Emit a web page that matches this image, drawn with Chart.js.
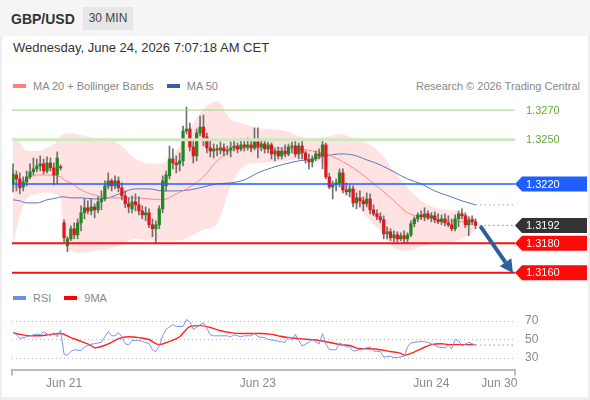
<!DOCTYPE html>
<html>
<head>
<meta charset="utf-8">
<script src="https://cdn.jsdelivr.net/npm/chart.js@4.4.1/dist/chart.umd.min.js"></script>
<style>
body{margin:0;width:590px;height:400px;background:#eeeeee;font-family:"Liberation Sans",Arial,sans-serif;position:relative;overflow:hidden}
#head{position:absolute;left:0;top:0;width:590px;height:36px;background:#f5f5f5}
#sym{position:absolute;left:11px;top:11px;font-size:14px;font-weight:bold;color:#333}
#tf{position:absolute;left:83px;top:7px;width:50px;height:23px;background:#e6e6e6;color:#444;font-size:12px;line-height:23px;text-align:center}
#panel{position:absolute;left:2px;top:36px;width:586px;height:361px;background:#fff}
#date{position:absolute;left:13px;top:40px;font-size:13px;line-height:16px;color:#333}
.lg{position:absolute;font-size:11px;line-height:13px;color:#888;white-space:nowrap}
.sw{display:inline-block;width:13px;height:4px;vertical-align:middle;margin-right:7px;position:relative;top:-1px}
canvas{position:absolute;left:0}
</style>
</head>
<body>
<div id="head"><span id="sym">GBP/USD</span><span id="tf">30 MIN</span></div>
<div id="panel"></div>
<div id="date">Wednesday, June 24, 2026 7:07:18 AM CET</div>
<div class="lg" style="left:13px;top:80px"><span class="sw" style="background:#ff7f7f"></span>MA 20 + Bollinger Bands<span class="sw" style="background:#3b5f9d;margin-left:13px"></span>MA 50</div>
<div class="lg" style="right:10px;top:80px">Research © 2026 Trading Central</div>
<canvas id="price" width="590" height="190" style="top:100px"></canvas>
<div class="lg" style="left:13px;top:292px"><span class="sw" style="background:#6f8fe6"></span>RSI<span class="sw" style="background:#ff0000;margin-left:13px"></span>9MA</div>
<canvas id="rsi" width="590" height="100" style="top:300px"></canvas>
<script>
//########################## data
// 30 min candles, index 0 = first visible bar
const opens = [
  1.32201, 1.32261, 1.32234, 1.32180, 1.32214, 1.32248, 1.32282, 1.32302, 1.32322, 1.32336,
  1.32288, 1.32342, 1.32309, 1.32261, 1.32315, 1.31937, 1.31782, 1.31829, 1.31897, 1.31856,
  1.31937, 1.32005, 1.32039, 1.32018, 1.32045, 1.32025, 1.32079, 1.32099, 1.32187, 1.32221,
  1.32187, 1.32221, 1.32174, 1.32120, 1.32066, 1.32032, 1.32079, 1.32059, 1.32018, 1.31991,
  1.32005, 1.31924, 1.31897, 1.31924, 1.32032, 1.32187, 1.32255, 1.32369, 1.32342, 1.32336,
  1.32356, 1.32558, 1.32572, 1.32450, 1.32390, 1.32545, 1.32585, 1.32518, 1.32444, 1.32423,
  1.32437, 1.32430, 1.32444, 1.32423, 1.32430, 1.32444, 1.32457, 1.32437, 1.32464, 1.32450,
  1.32464, 1.32444, 1.32484, 1.32450, 1.32471, 1.32437, 1.32464, 1.32403, 1.32423, 1.32390,
  1.32423, 1.32403, 1.32450, 1.32457, 1.32403, 1.32457, 1.32410, 1.32363, 1.32349, 1.32369,
  1.32403, 1.32390, 1.32464, 1.32248, 1.32180, 1.32194, 1.32207, 1.32275, 1.32160, 1.32147,
  1.32167, 1.32072, 1.32106, 1.32086, 1.32066, 1.32099, 1.32025, 1.31998, 1.31978, 1.31958,
  1.31863, 1.31877, 1.31836, 1.31856, 1.31829, 1.31850, 1.31829, 1.31856, 1.31931, 1.31964,
  1.31991, 1.31978, 1.31998, 1.31971, 1.31985, 1.31958, 1.31944, 1.31964, 1.31937, 1.31924,
  1.31897, 1.31964, 1.31998, 1.31985, 1.31924, 1.31958, 1.31944
]
const highs = [
  1.32336, 1.32288, 1.32275, 1.32248, 1.32288, 1.32336, 1.32376, 1.32369, 1.32390, 1.32369,
  1.32383, 1.32376, 1.32342, 1.32417, 1.32329, 1.31958, 1.31843, 1.31917, 1.31937, 1.31964,
  1.32052, 1.32099, 1.32086, 1.32099, 1.32066, 1.32113, 1.32153, 1.32221, 1.32275, 1.32234,
  1.32255, 1.32248, 1.32207, 1.32153, 1.32106, 1.32120, 1.32133, 1.32113, 1.32052, 1.32045,
  1.32032, 1.31964, 1.31951, 1.32052, 1.32255, 1.32288, 1.32457, 1.32437, 1.32390, 1.32410,
  1.32592, 1.32720, 1.32612, 1.32491, 1.32572, 1.32660, 1.32666, 1.32545, 1.32491, 1.32471,
  1.32464, 1.32484, 1.32471, 1.32457, 1.32484, 1.32491, 1.32477, 1.32504, 1.32491, 1.32511,
  1.32498, 1.32579, 1.32579, 1.32504, 1.32491, 1.32484, 1.32477, 1.32437, 1.32450, 1.32444,
  1.32464, 1.32471, 1.32484, 1.32491, 1.32477, 1.32491, 1.32423, 1.32403, 1.32390, 1.32423,
  1.32437, 1.32504, 1.32477, 1.32275, 1.32221, 1.32234, 1.32302, 1.32302, 1.32207, 1.32194,
  1.32187, 1.32140, 1.32153, 1.32113, 1.32140, 1.32133, 1.32059, 1.32025, 1.32005, 1.31985,
  1.31910, 1.31897, 1.31883, 1.31877, 1.31870, 1.31883, 1.31870, 1.31951, 1.31978, 1.32005,
  1.32018, 1.32039, 1.32018, 1.32005, 1.32012, 1.31998, 1.31991, 1.31998, 1.31985, 1.31964,
  1.31991, 1.32018, 1.32032, 1.32005, 1.31978, 1.31985, 1.31964
]
const lows = [
  1.32147, 1.32153, 1.32133, 1.32153, 1.32187, 1.32234, 1.32261, 1.32282, 1.32288, 1.32268,
  1.32275, 1.32288, 1.32194, 1.32201, 1.32295, 1.31809, 1.31742, 1.31816, 1.31829, 1.31829,
  1.31883, 1.31964, 1.31998, 1.31991, 1.31971, 1.32005, 1.32025, 1.32086, 1.32167, 1.32153,
  1.32167, 1.32147, 1.32093, 1.32039, 1.32005, 1.32005, 1.32018, 1.31991, 1.31964, 1.31951,
  1.31904, 1.31843, 1.31802, 1.31897, 1.32005, 1.32153, 1.32234, 1.32302, 1.32275, 1.32288,
  1.32322, 1.32538, 1.32423, 1.32342, 1.32356, 1.32525, 1.32457, 1.32410, 1.32383, 1.32376,
  1.32390, 1.32403, 1.32390, 1.32396, 1.32383, 1.32423, 1.32410, 1.32423, 1.32423, 1.32430,
  1.32417, 1.32430, 1.32376, 1.32423, 1.32410, 1.32410, 1.32369, 1.32356, 1.32369, 1.32369,
  1.32383, 1.32390, 1.32410, 1.32383, 1.32369, 1.32369, 1.32342, 1.32302, 1.32315, 1.32356,
  1.32369, 1.32302, 1.32234, 1.32167, 1.32099, 1.32153, 1.32180, 1.32140, 1.32126, 1.32113,
  1.32045, 1.32032, 1.32045, 1.32018, 1.32045, 1.31998, 1.31985, 1.31958, 1.31937, 1.31829,
  1.31829, 1.31816, 1.31809, 1.31809, 1.31816, 1.31802, 1.31796, 1.31843, 1.31910, 1.31944,
  1.31958, 1.31951, 1.31958, 1.31944, 1.31937, 1.31931, 1.31924, 1.31917, 1.31910, 1.31883,
  1.31883, 1.31910, 1.31964, 1.31904, 1.31850, 1.31924, 1.31897
]
const closes = [
  1.32268, 1.32234, 1.32174, 1.32214, 1.32248, 1.32282, 1.32302, 1.32322, 1.32336, 1.32288,
  1.32342, 1.32309, 1.32261, 1.32376, 1.32309, 1.31836, 1.31829, 1.31897, 1.31856, 1.31937,
  1.32005, 1.32039, 1.32018, 1.32045, 1.32025, 1.32079, 1.32099, 1.32187, 1.32221, 1.32187,
  1.32221, 1.32174, 1.32120, 1.32066, 1.32045, 1.32079, 1.32059, 1.32018, 1.31991, 1.32005,
  1.31924, 1.31897, 1.31924, 1.32032, 1.32221, 1.32261, 1.32369, 1.32342, 1.32329, 1.32356,
  1.32558, 1.32572, 1.32450, 1.32390, 1.32545, 1.32585, 1.32518, 1.32444, 1.32423, 1.32437,
  1.32430, 1.32444, 1.32423, 1.32430, 1.32444, 1.32457, 1.32437, 1.32464, 1.32450, 1.32464,
  1.32444, 1.32484, 1.32450, 1.32471, 1.32437, 1.32464, 1.32403, 1.32423, 1.32390, 1.32423,
  1.32403, 1.32450, 1.32457, 1.32403, 1.32457, 1.32410, 1.32363, 1.32349, 1.32369, 1.32403,
  1.32390, 1.32464, 1.32248, 1.32180, 1.32194, 1.32207, 1.32275, 1.32160, 1.32147, 1.32167,
  1.32072, 1.32106, 1.32086, 1.32066, 1.32099, 1.32025, 1.31998, 1.31978, 1.31958, 1.31863,
  1.31877, 1.31836, 1.31856, 1.31829, 1.31850, 1.31829, 1.31856, 1.31931, 1.31964, 1.31991,
  1.31978, 1.31998, 1.31971, 1.31985, 1.31958, 1.31944, 1.31964, 1.31937, 1.31924, 1.31897,
  1.31964, 1.31998, 1.31985, 1.31924, 1.31958, 1.31944, 1.31920
]

// overlay lines, read at these bar indexes
const lineIdx = [0, 2, 4, 7, 10, 13, 14, 15, 17, 20, 24, 28, 32, 36, 40, 44, 48, 52, 56, 60,
  64, 68, 72, 76, 80, 84, 88, 92, 96, 100, 104, 108, 112, 116, 120, 124, 128, 132, 136]
const ma20 = [1.32174, 1.32201, 1.32234, 1.32261, 1.32261, 1.32255, 1.32248, 1.32228, 1.32207, 1.32160,
  1.32126, 1.32106, 1.32106, 1.32106, 1.32099, 1.32093, 1.32133, 1.32180, 1.32248, 1.32356,
  1.32423, 1.32444, 1.32444, 1.32444, 1.32444, 1.32437, 1.32423, 1.32403, 1.32363, 1.32309,
  1.32241, 1.32167, 1.32086, 1.32005, 1.31978, 1.31964, 1.31951, 1.31944, 1.31958]
const ma50 = [1.32093, 1.32086, 1.32072, 1.32072, 1.32093, 1.32106, 1.32113, 1.32113, 1.32106, 1.32106,
  1.32099, 1.32106, 1.32140, 1.32167, 1.32167, 1.32153, 1.32153, 1.32160, 1.32180, 1.32201,
  1.32207, 1.32228, 1.32275, 1.32309, 1.32336, 1.32356, 1.32369, 1.32390, 1.32403, 1.32396,
  1.32363, 1.32329, 1.32282, 1.32234, 1.32201, 1.32153, 1.32120, 1.32086, 1.32059]
const bbUpper = [1.32525, 1.32477, 1.32423, 1.32423, 1.32444, 1.32491, 1.32525, 1.32538, 1.32545, 1.32531,
  1.32511, 1.32504, 1.32457, 1.32369, 1.32336, 1.32342, 1.32423, 1.32572, 1.32707, 1.32761,
  1.32639, 1.32606, 1.32579, 1.32572, 1.32558, 1.32525, 1.32511, 1.32518, 1.32538, 1.32511,
  1.32477, 1.32410, 1.32288, 1.32174, 1.32086, 1.32039, 1.32025, 1.32012, 1.31964]
const bbLower = [1.31782, 1.31985, 1.32099, 1.32133, 1.32140, 1.32126, 1.32086, 1.31829, 1.31748, 1.31735,
  1.31748, 1.31762, 1.31789, 1.31829, 1.31816, 1.31816, 1.31816, 1.31843, 1.31890, 1.31931,
  1.32187, 1.32322, 1.32342, 1.32349, 1.32356, 1.32369, 1.32356, 1.32322, 1.32174, 1.32086,
  1.31978, 1.31883, 1.31769, 1.31748, 1.31775, 1.31796, 1.31802, 1.31829, 1.31883]

// RSI panel
const rsiIdx = [0, 1, 2, 4, 5, 7, 8, 9, 11, 12, 13, 14, 15, 16, 17, 18, 20, 21, 23, 24,
  26, 27, 28, 29, 30, 31, 32, 33, 34, 35, 37, 38, 40, 41, 42, 43, 44, 45, 47, 48,
  50, 51, 52, 53, 55, 56, 57, 58, 59, 61, 63, 64, 65, 67, 68, 70, 71, 72, 74, 75,
  77, 78, 80, 81, 82, 83, 85, 87, 88, 90, 91, 92, 93, 95, 96, 98, 99, 100, 102, 103,
  105, 106, 108, 109, 111, 112, 113, 115, 116, 117, 120, 122, 124, 125, 127, 128, 129, 130, 131, 132,
  134, 135, 136]
const rsiVal = [57.6, 55.4, 51, 53, 54, 56, 55, 58.5, 54, 57.5, 53, 60, 34, 33, 37, 39, 38, 42, 45, 45.5,
  47, 53, 58.5, 54, 54, 57.5, 53, 45.5, 44, 49, 49, 48, 45.5, 39, 37, 43, 54, 61, 66, 64,
  64, 71.5, 69, 61, 66, 68, 62, 55, 54, 54, 54, 53, 55, 53, 54, 54, 56.5, 53, 52, 50,
  49, 48, 47, 53, 49, 55.5, 43, 47, 50, 45, 56.5, 45, 39, 39, 46.5, 42, 42, 37.5, 39, 40,
  42, 37.5, 37, 31, 32, 30.5, 30.5, 32, 42, 46.5, 48, 47, 43.5, 42, 41, 44, 40, 50, 49, 43,
  47, 45.5, 44]
const rsiMaIdx = [0, 2, 5, 8, 11, 14, 17, 20, 23, 24, 26, 29, 31, 34, 37, 40, 42, 43, 46, 49,
  52, 55, 58, 61, 64, 67, 70, 73, 76, 78, 81, 84, 87, 90, 93, 96, 99, 102, 105, 108,
  111, 114, 115, 117, 120, 123, 126, 128, 131, 134, 136]
const rsiMaVal = [57.5, 55.5, 54, 54, 55.5, 56.5, 52, 48, 43.5, 41, 42.5, 47, 51, 53, 52, 50, 45.5, 44.5, 48, 53,
  64, 65, 63, 59.5, 57.5, 56.5, 56.5, 56.5, 55.5, 54, 52, 51, 50, 49, 47, 44.5, 43.5, 40, 40, 39,
  37, 35, 33, 35, 40, 44.5, 45.5, 44.5, 44.5, 44.5, 44.5]
const rsiTicks = [30, 50, 70]

// key levels on the right
const levels = [1.3270, 1.3250, 1.3220, 1.3192, 1.3180, 1.3160]
const arrowFrom = [137.4, 1.31915]
const arrowTo = [147, 1.31598]

// date ticks
const tickIdx = [15, 72, 123, 143]
const tickLabels = ['Jun 21', 'Jun 23', 'Jun 24', 'Jun 30']

//########################## setup
const xMin = -0.3
const xMax = 147.6
const FONT = '"Liberation Sans", Arial, sans-serif'
const last = closes.length - 1

const pts = (idx, vals) => idx.map((v, i) => ({x: v, y: vals[i]}))

const levelStyle = [
  {line: '#a3d682', width: 1, text: '#62ad33'},
  {line: '#cfe7bf', width: 3, text: '#62ad33'},
  {line: '#1f5fff', width: 1.5, box: '#1f5fff'},
  {line: '#888', width: 1, dash: [1.5, 3], box: '#333333'},
  {line: '#ff0f0f', width: 2, box: '#ff0a0a'},
  {line: '#ff0f0f', width: 2, box: '#ff0a0a'}
]

const levelPlugin = {
  id: 'levels',
  afterDatasetsDraw(chart) {
    const {ctx, chartArea: area, scales: {x, y}} = chart
    ctx.save()
    ctx.font = '11px ' + FONT
    ctx.textBaseline = 'middle'
    levels.forEach((v, k) => {
      const st = levelStyle[k]
      const py = y.getPixelForValue(v)
      const x0 = st.dash ? x.getPixelForValue(last) + 4 : area.left
      ctx.beginPath()
      ctx.strokeStyle = st.line
      ctx.lineWidth = st.width
      ctx.setLineDash(st.dash || [])
      ctx.moveTo(x0, py)
      ctx.lineTo(area.right, py)
      ctx.stroke()
      ctx.setLineDash([])
      if (st.box) {
        ctx.fillStyle = st.box
        ctx.beginPath()
        ctx.moveTo(area.right, py)
        ctx.lineTo(area.right + 7, py - 7.5)
        ctx.lineTo(area.right + 72, py - 7.5)
        ctx.lineTo(area.right + 72, py + 7.5)
        ctx.lineTo(area.right + 7, py + 7.5)
        ctx.closePath()
        ctx.fill()
        ctx.fillStyle = '#fff'
      } else {
        ctx.fillStyle = st.text
      }
      ctx.fillText(v.toFixed(4), area.right + 11, py + 0.5)
    })

    // forecast arrow
    const ax0 = x.getPixelForValue(arrowFrom[0]), ay0 = y.getPixelForValue(arrowFrom[1])
    const ax1 = x.getPixelForValue(arrowTo[0]), ay1 = y.getPixelForValue(arrowTo[1])
    const ang = Math.atan2(ay1 - ay0, ax1 - ax0)
    const bx = ax1 - 13 * Math.cos(ang), by = ay1 - 13 * Math.sin(ang)
    ctx.strokeStyle = '#2e5e9c'
    ctx.fillStyle = '#2e5e9c'
    ctx.lineWidth = 4
    ctx.beginPath()
    ctx.moveTo(ax0, ay0)
    ctx.lineTo(bx, by)
    ctx.stroke()
    ctx.beginPath()
    ctx.moveTo(ax1, ay1)
    ctx.lineTo(bx + 7 * Math.sin(ang), by - 7 * Math.cos(ang))
    ctx.lineTo(bx - 7 * Math.sin(ang), by + 7 * Math.cos(ang))
    ctx.closePath()
    ctx.fill()
    ctx.restore()
  }
}

const axisEnds = {
  id: 'axisEnds',
  afterDraw(chart) {
    const {ctx, chartArea: a} = chart
    ctx.save()
    ctx.strokeStyle = '#bbb'
    ctx.lineWidth = 2
    ctx.beginPath()
    ctx.moveTo(a.left, a.bottom)
    ctx.lineTo(a.left, a.bottom + 6)
    ctx.moveTo(a.right, a.bottom)
    ctx.lineTo(a.right, a.bottom + 6)
    ctx.stroke()
    ctx.restore()
  }
}

const isUp = i => closes[i] >= opens[i]

//########################## price chart
new Chart(document.getElementById('price'), {
  type: 'bar',
  data: {
    datasets: [
      {type: 'line', data: pts(lineIdx, bbUpper), fill: '+1', backgroundColor: 'rgba(255,40,40,0.13)',
        borderWidth: 0, pointRadius: 0, cubicInterpolationMode: 'monotone', order: 7},
      {type: 'line', data: pts(lineIdx, bbLower), fill: false, borderWidth: 0, pointRadius: 0,
        cubicInterpolationMode: 'monotone', order: 8},
      {type: 'line', data: pts(lineIdx, ma50), borderColor: '#5878bb', borderWidth: 1, pointRadius: 0,
        cubicInterpolationMode: 'monotone', order: 5},
      {type: 'line', data: [{x: last, y: ma50[ma50.length - 1]}, {x: xMax, y: ma50[ma50.length - 1]}],
        borderColor: '#8ea6d6', borderWidth: 1, borderDash: [1.5, 3], pointRadius: 0, order: 5},
      {type: 'line', data: pts(lineIdx, ma20), borderColor: '#ff8585', borderWidth: 1, pointRadius: 0,
        cubicInterpolationMode: 'monotone', order: 4},
      {data: highs.map((h, i) => ({x: i, y: [lows[i], h]})), backgroundColor: '#707070',
        barThickness: 1, grouped: false, order: 2},
      {data: opens.map((o, i) => ({x: i, y: [o, closes[i]]})),
        backgroundColor: c => isUp(c.dataIndex) ? '#23871f' : '#e3141b',
        barThickness: 2.6, minBarLength: 1, grouped: false, order: 1}
    ]
  },
  options: {
    responsive: false,
    animation: false,
    layout: {padding: {left: 12, right: 75, top: 0, bottom: 0}},
    scales: {
      x: {type: 'linear', min: xMin, max: xMax, offset: false, display: false},
      y: {min: 1.31483, max: 1.32768, display: false}
    },
    plugins: {legend: {display: false}, tooltip: {enabled: false}}
  },
  plugins: [levelPlugin]
})

//########################## RSI chart
new Chart(document.getElementById('rsi'), {
  type: 'line',
  data: {
    datasets: [
      {data: pts(rsiIdx, rsiVal), borderColor: '#7b96e8', borderWidth: 1, pointRadius: 0, tension: 0},
      {data: [{x: last, y: rsiVal[rsiVal.length - 1]}, {x: xMax, y: rsiVal[rsiVal.length - 1]}],
        borderColor: '#7b96e8', borderWidth: 1, borderDash: [1.5, 3], pointRadius: 0},
      {data: pts(rsiMaIdx, rsiMaVal), borderColor: '#ff2323', borderWidth: 1.4, pointRadius: 0,
        cubicInterpolationMode: 'monotone'}
    ]
  },
  options: {
    responsive: false,
    animation: false,
    layout: {padding: {left: 12, right: 0, top: 5, bottom: 8.5}},
    scales: {
      x: {
        type: 'linear', min: xMin, max: xMax, offset: false,
        afterBuildTicks: s => { s.ticks = tickIdx.map(v => ({value: v})) },
        afterFit: s => { s.height = 22; s.paddingLeft = 0; s.paddingRight = 0 },
        grid: {display: false, drawTicks: false},
        border: {color: '#bbb', width: 2},
        ticks: {callback: (v, i) => tickLabels[i], autoSkip: false, maxRotation: 0, padding: 7,
          color: '#888', font: {size: 12, family: FONT}}
      },
      y: {
        position: 'right', min: 17.6, max: 87.3,
        afterBuildTicks: s => { s.ticks = rsiTicks.map(v => ({value: v})) },
        afterFit: s => { s.width = 75; s.paddingTop = 0; s.paddingBottom = 0 },
        grid: {color: '#bbb', drawTicks: false},
        border: {display: false, dash: [1, 3]},
        ticks: {padding: 10, color: '#888', font: {size: 12, family: FONT}}
      }
    },
    plugins: {legend: {display: false}, tooltip: {enabled: false}}
  },
  plugins: [axisEnds]
})
</script>
</body>
</html>
